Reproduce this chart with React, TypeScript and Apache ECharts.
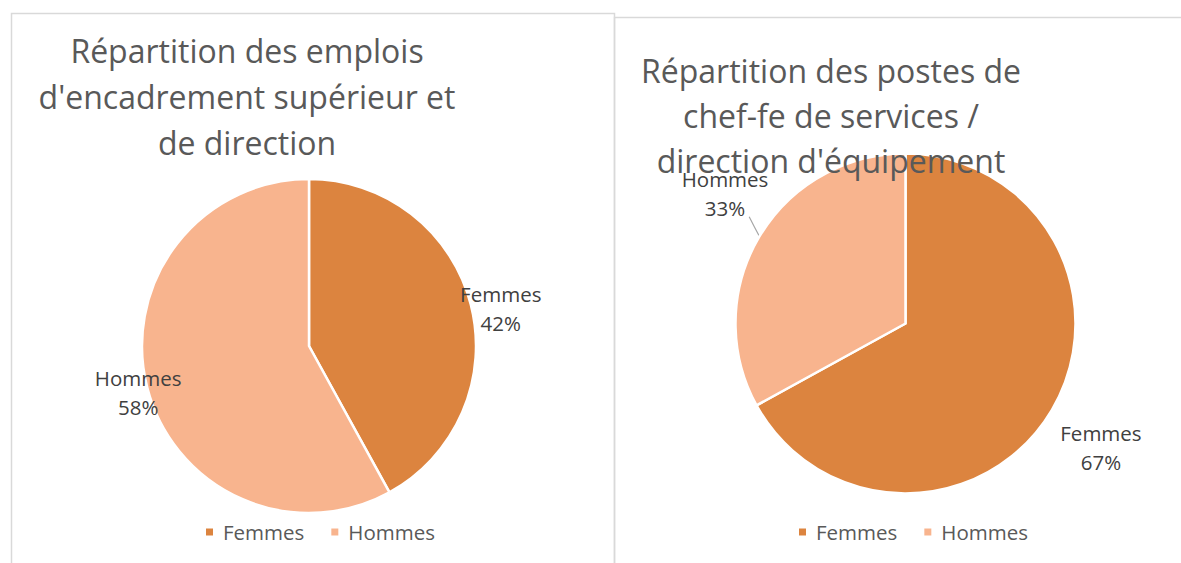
import React, { useEffect, useRef } from 'react';
import * as echarts from 'echarts';

// ---- data ----
const CATEGORIES = ['Femmes', 'Hommes'];
const EMPLOIS_VALUES = [42, 58];
const POSTES_VALUES = [67, 33];
const TITLE_EMPLOIS = "Répartition des emplois\nd'encadrement supérieur et\nde direction";
const TITLE_POSTES = "Répartition des postes de\nchef-fe de services /\ndirection d'équipement";

// ---- style ----
const COLORS = ['#DC843F', '#F8B48E'];
const FONT = '"Open Sans", "Noto Sans", sans-serif';
const TITLE_COLOR = '#595959';
const LABEL_COLOR = '#404040';
const BORDER_COLOR = '#D9D9D9';

// ---- layout (positions only) ----
const PIES = [
  {
    values: EMPLOIS_VALUES,
    title: TITLE_EMPLOIS,
    cx: 309,
    cy: 346,
    r: 167,
    titleX: 247,
    titleY: 27,
    titleLH: 46,
    legendLeft: 204,
    labelOffsets: [[31, 4], [-10, 5]],
    leader: [false, false],
  },
  {
    values: POSTES_VALUES,
    title: TITLE_POSTES,
    cx: 905.5,
    cy: 323.5,
    r: 170,
    titleX: 831,
    titleY: 47.5,
    titleLH: 45,
    legendLeft: 797,
    labelOffsets: [[50, 38], [-35, -44]],
    leader: [false, true],
  },
];

function midAngles(values: number[]): number[] {
  const total = values.reduce((a, b) => a + b, 0);
  let acc = 0;
  return values.map((v) => {
    const mid = ((acc + v / 2) / total) * Math.PI * 2;
    acc += v;
    return mid;
  });
}

export default function App() {
  const ref = useRef<HTMLDivElement>(null);

  useEffect(() => {
    if (!ref.current) return;
    const chart = echarts.init(ref.current, undefined, { renderer: 'svg' });

    const series = PIES.map((p) => {
      const mids = midAngles(p.values);
      const edge = p.r - 1;
      return {
        type: 'pie',
        center: [p.cx, p.cy],
        radius: p.r,
        startAngle: 90,
        clockwise: true,
        silent: true,
        emphasis: { disabled: true },
        itemStyle: { borderColor: '#ffffff', borderWidth: 2.5 },
        label: {
          show: true,
          formatter: (prm: any) => `${prm.name}\n${Math.round(prm.percent)}%`,
          fontFamily: FONT,
          fontSize: 20.5,
          lineHeight: 29,
          color: LABEL_COLOR,
          align: 'center',
          overflow: 'none',
          width: 200,
        },
        labelLine: { show: false, lineStyle: { color: '#A6A6A6', width: 1.2 } },
        labelLayout: (prm: any) => {
          const i = prm.dataIndex;
          const a = mids[i];
          const ex = p.cx + edge * Math.sin(a);
          const ey = p.cy - edge * Math.cos(a);
          const [dx, dy] = p.labelOffsets[i];
          const res: any = {
            x: ex + dx,
            y: ey + dy,
            align: 'center',
            verticalAlign: 'middle',
          };
          if (p.leader[i]) {
            res.labelLinePoints = [
              [ex, ey],
              [ex + dx * 0.16, ey + dy * 0.24],
              [ex + dx * 0.31, ey + dy * 0.47],
            ];
          }
          return res;
        },
        data: CATEGORIES.map((name, i) => ({
          name,
          value: p.values[i],
          itemStyle: { color: COLORS[i] },
          labelLine: { show: p.leader[i] },
        })),
      };
    });

    const legends = PIES.map((p) => ({
      data: CATEGORIES,
      left: p.legendLeft,
      top: 520,
      orient: 'horizontal',
      icon: 'rect',
      itemWidth: 9,
      itemHeight: 9,
      itemGap: 25,
      padding: 0,
      selectedMode: false,
      textStyle: {
        fontFamily: FONT,
        fontSize: 20.5,
        lineHeight: 24,
        color: TITLE_COLOR,
        padding: [0, 0, 0, 4],
      },
    }));

    const graphic: any[] = [
      {
        type: 'rect',
        silent: true,
        z: -1,
        shape: { x: 11.5, y: 13.5, width: 603, height: 700 },
        style: { fill: 'none', stroke: BORDER_COLOR, lineWidth: 1.5 },
      },
      {
        type: 'rect',
        silent: true,
        z: -1,
        shape: { x: 614.5, y: 17.5, width: 700, height: 700 },
        style: { fill: 'none', stroke: BORDER_COLOR, lineWidth: 1.5 },
      },
      ...PIES.map((p) => ({
        type: 'text',
        silent: true,
        z: 100,
        x: p.titleX,
        y: p.titleY,
        style: {
          text: p.title,
          align: 'center',
          verticalAlign: 'top',
          fontFamily: FONT,
          fontSize: 32,
          lineHeight: p.titleLH,
          fill: TITLE_COLOR,
        },
      })),
    ];

    chart.setOption({
      animation: false,
      backgroundColor: '#ffffff',
      legend: legends,
      series,
      graphic,
    });

    return () => chart.dispose();
  }, []);

  return (
    <div
      ref={ref}
      style={{ position: 'fixed', left: 0, top: 0, width: 1181, height: 563 }}
    />
  );
}
